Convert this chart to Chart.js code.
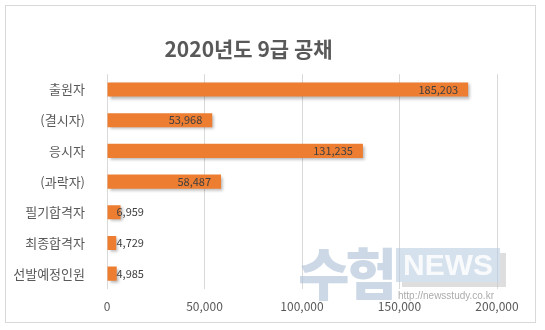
<!DOCTYPE html>
<html>
<head>
<meta charset="utf-8">
<script src="https://cdn.jsdelivr.net/npm/chart.js@4"></script>
<style>
    body { margin: 0; background: #fff; }
    #wrap { position: relative; width: 545px; height: 330px; }
    #frame { position: absolute; left: 5px; top: 5px; width: 529px; height: 316px; border: 1px solid #d9d9d9; }
    canvas { position: absolute; left: 0; top: 0; }
    .wm { position: absolute; font-family: 'Noto Sans CJK KR', sans-serif; pointer-events: none; }
    #wm1 { left: 298px; top: 230px; font-size: 56px; font-weight: 900; color: rgba(170, 190, 214, 0.6); letter-spacing: -4px; }
    #wm2 { left: 396px; top: 248px; width: 104px; height: 34px; background: rgba(180, 200, 224, 0.55); color: rgba(255,255,255,0.85);
           font: 900 30px 'Liberation Sans', sans-serif; text-align: center; line-height: 34px; box-shadow: 6px 5px 0 rgba(200,200,200,0.6); }
    #wm3 { left: 398px; top: 290px; font: 10px 'Liberation Sans', sans-serif; color: rgba(150,150,150,0.8); }
</style>
</head>
<body>
<div id="wrap">
    <div id="frame"></div>
    <canvas id="chart" width="545" height="330"></canvas>
    <div class="wm" id="wm1">수험</div>
    <div class="wm" id="wm2">NEWS</div>
    <div class="wm" id="wm3">http://newsstudy.co.kr</div>
</div>
<script>
// Chart data
const categories = ['출원자', '(결시자)', '응시자', '(과락자)', '필기합격자', '최종합격자', '선발예정인원'];
const counts = [185203, 53968, 131235, 58487, 6959, 4729, 4985];
const xTicks = [0, 50000, 100000, 150000, 200000];

const FONT = "'Noto Sans CJK KR', 'Noto Sans', sans-serif";

// soft shadow under bars, like the Excel original
const barShadow = {
    id: 'barShadow',
    beforeDatasetDraw(chart) {
        const ctx = chart.ctx;
        ctx.save();
        ctx.shadowColor = 'rgba(0, 0, 0, 0.3)';
        ctx.shadowBlur = 3;
        ctx.shadowOffsetX = 2;
        ctx.shadowOffsetY = 2;
    },
    afterDatasetDraw(chart) {
        chart.ctx.restore();
    }
};

// value labels: inside end if it fits, otherwise just past the base
const valueLabels = {
    id: 'valueLabels',
    afterDatasetsDraw(chart) {
        const ctx = chart.ctx;
        const meta = chart.getDatasetMeta(0);
        ctx.save();
        ctx.font = '11px ' + FONT;
        ctx.fillStyle = '#404040';
        ctx.textBaseline = 'middle';
        meta.data.forEach((bar, i) => {
            const text = counts[i].toLocaleString('en-US');
            const w = ctx.measureText(text).width;
            if (bar.x - bar.base > w + 16) {
                ctx.textAlign = 'right';
                ctx.fillText(text, bar.x - 10, bar.y);
            } else {
                ctx.textAlign = 'left';
                ctx.fillText(text, bar.base + 9, bar.y);
            }
        });
        ctx.restore();
    }
};

new Chart(document.getElementById('chart').getContext('2d'), {
    type: 'bar',
    data: {
        labels: categories,
        datasets: [{
            data: counts,
            backgroundColor: '#ED7D31',
            borderWidth: 0,
            barPercentage: 0.46,
            categoryPercentage: 1
        }]
    },
    options: {
        indexAxis: 'y',
        responsive: false,
        animation: false,
        layout: { padding: { left: 0, right: 48, top: 0, bottom: 0 } },
        scales: {
            x: {
                min: 0,
                max: 200000,
                afterBuildTicks(scale) {
                    scale.ticks = xTicks.map(v => ({ value: v }));
                },
                afterFit(scale) { scale.height = 41; },
                grid: { color: '#d9d9d9', drawTicks: false },
                border: { display: false },
                ticks: {
                    padding: 10,
                    color: '#595959',
                    font: { family: FONT, size: 12 },
                    callback: v => v.toLocaleString('en-US')
                }
            },
            y: {
                afterFit(scale) { scale.width = 107; },
                grid: { display: false },
                border: { display: false },
                ticks: {
                    padding: 14,
                    color: '#595959',
                    font: { family: FONT, size: 13 }
                }
            }
        },
        plugins: {
            legend: { display: false },
            tooltip: { enabled: false },
            title: {
                display: true,
                text: '2020년도 9급 공채',
                color: '#595959',
                font: { family: FONT, size: 21, weight: 'bold' },
                padding: { top: 36, bottom: 13 }
            }
        }
    },
    plugins: [barShadow, valueLabels]
});
</script>
</body>
</html>
